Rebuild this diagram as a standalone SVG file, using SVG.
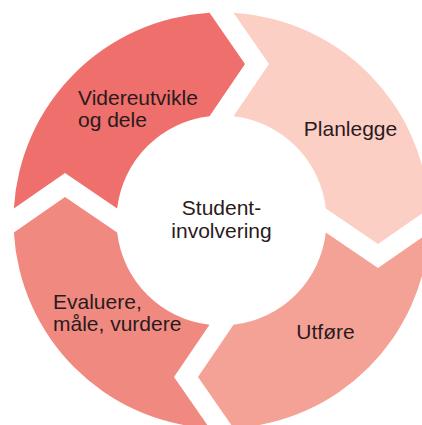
<svg xmlns="http://www.w3.org/2000/svg" width="422" height="425" viewBox="0 0 422 425">
<style>
.lbl{font-family:"Liberation Sans",Arial,sans-serif;font-size:21px;fill:#2b1a1d}
.mid{text-anchor:middle}
</style>
<defs>
<path id="seg" d="M12,-207.65 A208,208 0 0 1 207.65,-12 L156.5,23.5 L104.31,-12 A105,105 0 0 0 12,-104.31 L47.5,-156.5 Z"/>
</defs>
<rect width="422" height="425" fill="#ffffff"/>
<g id="connectors"></g>
<g id="planlegge">
<use href="#seg" transform="translate(221.5,220.5)" fill="#fccfc4"/>
<text class="lbl mid" x="350.5" y="136">Planlegge</text>
</g>
<g id="utfore">
<use href="#seg" transform="translate(221.5,220.5) rotate(90)" fill="#f4a295"/>
<text class="lbl mid" x="325.5" y="339">Utføre</text>
</g>
<g id="evaluere">
<use href="#seg" transform="translate(221.5,220.5) rotate(180)" fill="#f08a81"/>
<text class="lbl" x="53" y="309">Evaluere,</text>
<text class="lbl" x="53" y="331">måle, vurdere</text>
</g>
<g id="videreutvikle">
<use href="#seg" transform="translate(221.5,220.5) rotate(270)" fill="#ee6f6b"/>
<text class="lbl" x="78" y="105">Videreutvikle</text>
<text class="lbl" x="78" y="127">og dele</text>
</g>
<g id="studentinvolvering">
<text class="lbl mid" x="221.5" y="215">Student-</text>
<text class="lbl mid" x="221.5" y="238">involvering</text>
</g>
</svg>
